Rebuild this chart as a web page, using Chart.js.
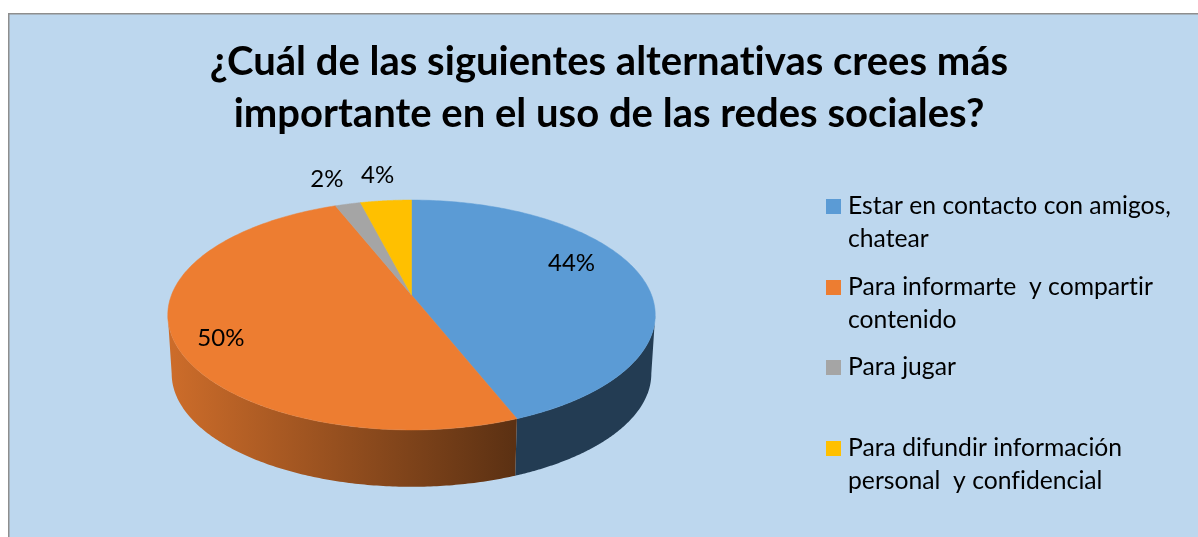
<!DOCTYPE html>
<html><head><meta charset="utf-8">
<style>html,body{margin:0;padding:0;background:#fff}#w{width:1198px;height:537px}canvas{display:block}</style>
<script src="https://cdn.jsdelivr.net/npm/chart.js@4"></script>
</head><body><div id="w"><canvas id="c" width="1198" height="537"></canvas></div>
<script>
const titleLines = ['¿Cuál de las siguientes alternativas crees más', 'importante en el uso de las redes sociales?'];
const categories = [
  ['Estar en contacto con amigos,', 'chatear'],
  ['Para informarte  y compartir', 'contenido'],
  ['Para jugar'],
  ['Para difundir información', 'personal  y confidencial']
];
const values = [44, 50, 2, 4];
const colors = ['#5B9BD5', '#ED7D31', '#A5A5A5', '#FFC000'];

// view settings for the tilted, perspective pie
const view = {
  cx: 411.5, p: 0.174, squash: 0.4645,
  topY: 295, depthY: 59, depthScale: 0.984,
  shadeFrom: 172, shadeKnee: 513, shadeTo: 655,
  labelRadius: [0.65, 0.85, 1.15, 1.15],
  labelNudge: [[10,-18],[10,6],[-13,-13],[-5,-14]],
  legendX: 826, legendTextX: 848, legendLine: 32.5,
  legendY: [206.5, 287.5, 367.5, 448.5]
};
const FONT = 'Lato, Carlito, "Open Sans", sans-serif';

function project(a, r, R, y0) {
  const u = r * Math.cos(a), v = r * Math.sin(a), w = 1 - view.p * v;
  return [view.cx + R * u / w, y0 + R * view.squash * v / w];
}
function shade(hex, f) {
  const n = parseInt(hex.slice(1), 16);
  return `rgb(${Math.round((n>>16&255)*f)},${Math.round((n>>8&255)*f)},${Math.round((n&255)*f)})`;
}
function topPath(ctx, el) {
  const R = el.outerRadius, n = 160;
  ctx.beginPath();
  ctx.moveTo(view.cx, view.topY);
  for (let i = 0; i <= n; i++) {
    const q = project(el.startAngle + (el.endAngle - el.startAngle) * i / n, 1, R, view.topY);
    ctx.lineTo(q[0], q[1]);
  }
  ctx.closePath();
}
function drawSides(ctx, meta) {
  const lim = Math.asin(view.p);
  const lo = lim, hi = Math.PI - lim;
  meta.data.forEach((el, i) => {
    const a = Math.max(el.startAngle, lo), b = Math.min(el.endAngle, hi);
    if (b <= a) return;
    const R = el.outerRadius, n = 160;
    const R2 = R * view.depthScale, y2 = view.topY + view.depthY;
    ctx.beginPath();
    for (let k = 0; k <= n; k++) {
      const q = project(a + (b - a) * k / n, 1, R, view.topY);
      k ? ctx.lineTo(q[0], q[1]) : ctx.moveTo(q[0], q[1]);
    }
    for (let k = n; k >= 0; k--) {
      const q = project(a + (b - a) * k / n, 1, R2, y2);
      ctx.lineTo(q[0], q[1]);
    }
    ctx.closePath();
    const g = ctx.createLinearGradient(view.shadeFrom, 0, view.shadeTo, 0);
    const c = colors[i];
    g.addColorStop(0, shade(c, 0.86));
    g.addColorStop((view.shadeKnee - view.shadeFrom) / (view.shadeTo - view.shadeFrom), shade(c, 0.39));
    g.addColorStop(1, shade(c, 0.39));
    ctx.fillStyle = g;
    ctx.fill();
  });
}

const pie3d = {
  id: 'pie3d',
  beforeDraw(chart) {
    const ctx = chart.ctx;
    ctx.letterSpacing = '0.01px';
    ctx.save();
    ctx.fillStyle = '#8E8E8E';
    ctx.fillRect(8, 13, 1190, 524);
    ctx.fillStyle = '#BDD7EE';
    ctx.fillRect(9.5, 14.5, 1189, 523);
    ctx.restore();
  },
  beforeDatasetsDraw(chart) {
    const meta = chart.getDatasetMeta(0);
    meta.data.forEach(el => {
      el.draw = function (ctx) {
        ctx.save();
        topPath(ctx, this);
        ctx.fillStyle = this.options.backgroundColor;
        ctx.strokeStyle = this.options.backgroundColor;
        ctx.lineWidth = 0.5;
        ctx.fill();
        ctx.stroke();
        ctx.restore();
      };
    });
    drawSides(chart.ctx, meta);
  },
  afterDatasetsDraw(chart) {
    const ctx = chart.ctx, meta = chart.getDatasetMeta(0);
    ctx.save();
    ctx.fillStyle = '#000';
    ctx.textAlign = 'center';
    ctx.textBaseline = 'middle';
    ctx.font = '24px ' + FONT;
    meta.data.forEach((el, i) => {
      const mid = (el.startAngle + el.endAngle) / 2;
      const q = project(mid, view.labelRadius[i], el.outerRadius, view.topY);
      ctx.fillText(values[i] + '%', q[0] + view.labelNudge[i][0], q[1] + view.labelNudge[i][1]);
    });
    ctx.textAlign = 'left';
    ctx.font = '24.7px ' + FONT;
    categories.forEach((lines, i) => {
      const y = view.legendY[i];
      ctx.fillStyle = colors[i];
      ctx.fillRect(view.legendX, y - 7.5, 15, 15);
      ctx.fillStyle = '#000';
      lines.forEach((t, j) => ctx.fillText(t, view.legendTextX, y + j * view.legendLine));
    });
    ctx.restore();
  }
};

new Chart(document.getElementById('c'), {
  type: 'pie',
  data: {
    labels: categories,
    datasets: [{ data: values, backgroundColor: colors, borderWidth: 0, radius: 240, clip: false }]
  },
  options: {
    responsive: false,
    animation: false,
    layout: { padding: { left: 20, right: 0, top: 0, bottom: 0 } },
    events: [],
    plugins: {
      legend: { display: false },
      tooltip: { enabled: false },
      title: {
        display: true,
        text: titleLines,
        color: '#000',
        font: { family: FONT, size: 40, weight: 'bold', lineHeight: 1.3 },
        padding: { top: 36, bottom: 10 }
      }
    }
  },
  plugins: [pie3d]
});
</script></body></html>
